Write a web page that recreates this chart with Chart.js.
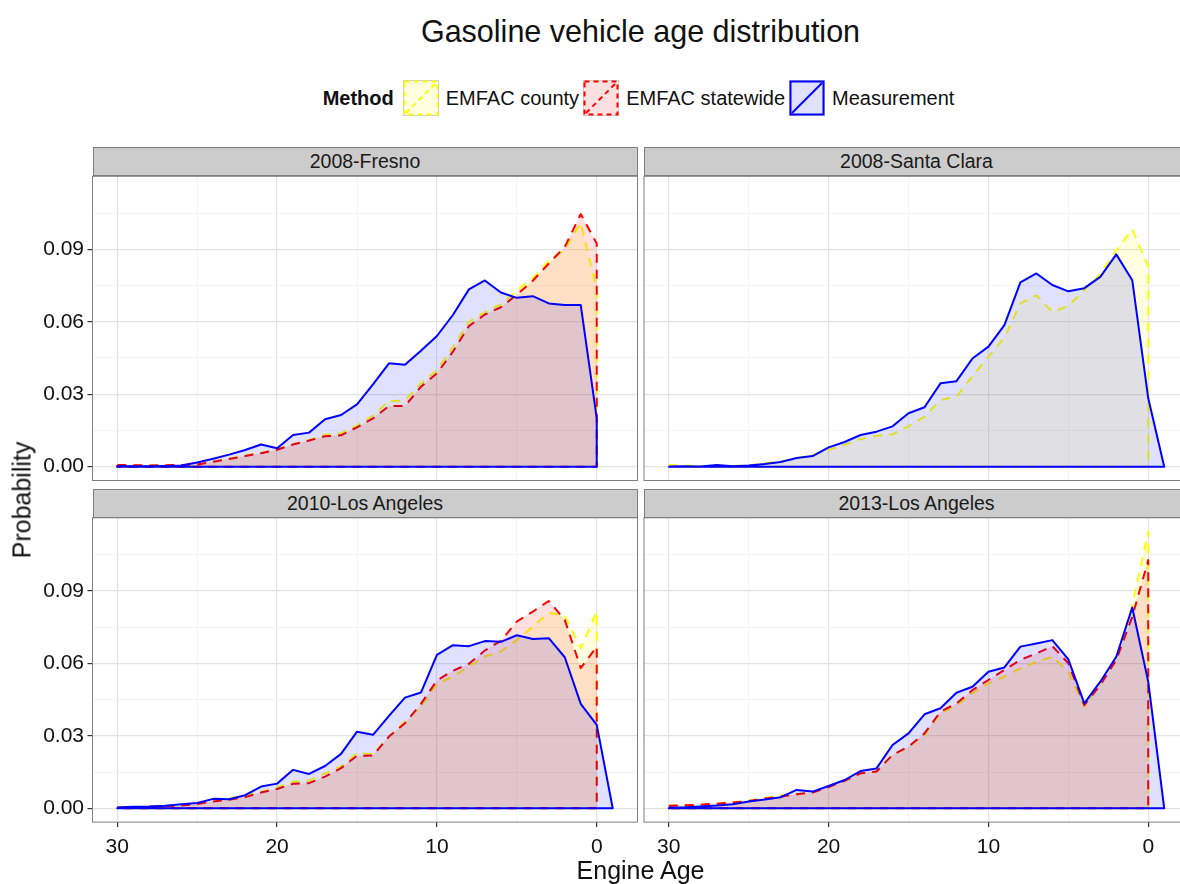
<!DOCTYPE html>
<html lang="en">
<head>
<meta charset="UTF-8">
<title>Gasoline vehicle age distribution</title>
<script src="https://cdn.jsdelivr.net/npm/chart.js"></script>
<style>
    body {
        margin: 0;
        width: 1180px;
        height: 884px;
        overflow: hidden;
        position: relative;
        background: #fff;
        font-family: "Liberation Sans", Arial, sans-serif;
        color: #111;
    }
    canvas { position: absolute; }
    /* the figure is wider than the window; title and legend centre on the whole figure */
    #title {
        position: absolute; left: 0; width: 1281px; top: 14px;
        text-align: center; font-size: 30.5px; white-space: nowrap;
    }
    #legend {
        position: absolute; left: 0; width: 1281px; top: 80px; height: 36px;
        display: flex; justify-content: center; align-items: center; font-size: 20px;
        white-space: nowrap;
    }
    #legend b { margin-right: 9px; }
    #legend svg { margin-right: 7px; }
    #legend span { margin-right: 4px; }
    .strip {
        position: absolute; box-sizing: border-box; width: 545px;
        background: #cccccc; border: 1px solid #7f7f7f;
        display: flex; align-items: center; justify-content: center;
        font-size: 19.5px; color: #1a1a1a;
    }
    .axis-title { position: absolute; font-size: 25px; white-space: nowrap; }
</style>
</head>
<body>

<div id="title">Gasoline vehicle age distribution</div>
<div id="legend"><b>Method</b></div>

<div class="strip" style="left:92.5px; top:147px; height:29.3px">2008-Fresno</div>
<div class="strip" style="left:644px; top:147px; height:29.3px">2008-Santa Clara</div>
<div class="strip" style="left:92.5px; top:489px; height:28.8px">2010-Los Angeles</div>
<div class="strip" style="left:644px; top:489px; height:28.8px">2013-Los Angeles</div>

<canvas id="fresno" width="645" height="316" style="left:0; top:170px"></canvas>
<canvas id="santaClara" width="560" height="316" style="left:640px; top:170px"></canvas>
<canvas id="la2010" width="645" height="373" style="left:0; top:511px"></canvas>
<canvas id="la2013" width="560" height="373" style="left:640px; top:511px"></canvas>

<div class="axis-title" style="left:22px; top:500px; transform: translate(-50%, -50%) rotate(-90deg)">Probability</div>
<div class="axis-title" style="left:640.5px; top:870px; transform: translate(-50%, -50%)">Engine Age</div>

<script>
    // engine age of each value; the last entry (-1) is only used by the measured series
    const ages = [30, 29, 28, 27, 26, 25, 24, 23, 22, 21, 20, 19, 18, 17, 16, 15,
                  14, 13, 12, 11, 10, 9, 8, 7, 6, 5, 4, 3, 2, 1, 0, -1];

    const xMajor = [30, 20, 10, 0];
    const xMinor = [25, 15, 5];
    const yMajor = [0, 0.03, 0.06, 0.09];
    const yMinor = [0.015, 0.045, 0.075, 0.105];

    const methods = ['EMFAC county', 'EMFAC statewide', 'Measurement'];
    const lineColors = ['#ffff00', '#ff0000', '#0000ff'];
    const fillColors = ['rgba(255,255,0,0.12)', 'rgba(255,0,0,0.12)', 'rgba(0,0,255,0.12)'];
    const dashes = [[9, 7], [9, 7], []];

    // 2008 Fresno
    const fresnoCounty = [0.0007, 0.0006, 0.0005, 0.0006, 0.0007, 0.0009, 0.0021, 0.0034, 0.0046, 0.0058,
        0.0072, 0.0094, 0.0111, 0.0132, 0.0138, 0.0170, 0.0212, 0.0272, 0.0274, 0.0345,
        0.0400, 0.0495, 0.0600, 0.0640, 0.0672, 0.0730, 0.0780, 0.0852, 0.0900, 0.1010, 0.0735];
    const fresnoStatewide = [0.0007, 0.0006, 0.0005, 0.0006, 0.0007, 0.0009, 0.0020, 0.0032, 0.0044, 0.0056,
        0.0070, 0.0092, 0.0108, 0.0126, 0.0130, 0.0163, 0.0200, 0.0251, 0.0251, 0.0331,
        0.0386, 0.0476, 0.0582, 0.0630, 0.0660, 0.0712, 0.0770, 0.0841, 0.0910, 0.1046, 0.0924];
    const fresnoMeasured = [0.0003, 0.0002, 0.0002, 0.0003, 0.0005, 0.0017, 0.0033, 0.0050, 0.0069, 0.0092,
        0.0076, 0.0131, 0.0141, 0.0196, 0.0214, 0.0258, 0.0341, 0.0428, 0.0422, 0.0480,
        0.0541, 0.0628, 0.0734, 0.0771, 0.0721, 0.0699, 0.0706, 0.0676, 0.0669, 0.0669, 0.0200];

    // 2008 Santa Clara (no statewide series)
    const santaClaraCounty = [0.0006, 0.0005, 0.0003, 0.0002, 0.0003, 0.0006, 0.0014, 0.0021, 0.0036, 0.0049,
        0.0070, 0.0090, 0.0114, 0.0128, 0.0134, 0.0168, 0.0207, 0.0276, 0.0290, 0.0375,
        0.0455, 0.0535, 0.0676, 0.0710, 0.0641, 0.0665, 0.0731, 0.0797, 0.0897, 0.0982, 0.0830];
    const santaClaraMeasured = [0.0001, 0.0002, 0.0001, 0.0007, 0.0002, 0.0005, 0.0011, 0.0019, 0.0036, 0.0044,
        0.0080, 0.0102, 0.0131, 0.0145, 0.0167, 0.0221, 0.0246, 0.0345, 0.0354, 0.0448,
        0.0497, 0.0586, 0.0763, 0.0800, 0.0752, 0.0726, 0.0739, 0.0786, 0.0879, 0.0772, 0.0283, 0];

    // 2010 Los Angeles
    const la2010County = [0.0004, 0.0005, 0.0007, 0.0009, 0.0013, 0.0020, 0.0030, 0.0041, 0.0053, 0.0069,
        0.0086, 0.0110, 0.0115, 0.0145, 0.0173, 0.0228, 0.0224, 0.0297, 0.0359, 0.0421,
        0.0515, 0.0545, 0.0587, 0.0628, 0.0649, 0.0697, 0.0752, 0.0810, 0.0796, 0.0663, 0.0814];
    const la2010Statewide = [0.0003, 0.0004, 0.0006, 0.0008, 0.0011, 0.0018, 0.0028, 0.0035, 0.0046, 0.0065,
        0.0080, 0.0101, 0.0104, 0.0131, 0.0166, 0.0217, 0.0218, 0.0297, 0.0352, 0.0432,
        0.0529, 0.0569, 0.0598, 0.0653, 0.0693, 0.0773, 0.0814, 0.0858, 0.0780, 0.0580, 0.0669];
    const la2010Measured = [0.0003, 0.0006, 0.0007, 0.0010, 0.0017, 0.0022, 0.0039, 0.0037, 0.0054, 0.0090,
        0.0102, 0.0159, 0.0142, 0.0175, 0.0225, 0.0317, 0.0304, 0.0382, 0.0458, 0.0479,
        0.0635, 0.0675, 0.0671, 0.0692, 0.0689, 0.0716, 0.0701, 0.0704, 0.0625, 0.0432, 0.0345, 0];

    // 2013 Los Angeles
    const la2013County = [0.0010, 0.0012, 0.0015, 0.0019, 0.0025, 0.0031, 0.0042, 0.0054, 0.0057, 0.0066,
        0.0090, 0.0115, 0.0145, 0.0152, 0.0221, 0.0255, 0.0303, 0.0393, 0.0427, 0.0476,
        0.0517, 0.0545, 0.0579, 0.0607, 0.0627, 0.0565, 0.0420, 0.0517, 0.0627, 0.0841, 0.1145];
    const la2013Statewide = [0.0010, 0.0012, 0.0015, 0.0019, 0.0024, 0.0030, 0.0040, 0.0048, 0.0058, 0.0065,
        0.0088, 0.0114, 0.0145, 0.0152, 0.0221, 0.0255, 0.0310, 0.0400, 0.0434, 0.0489,
        0.0531, 0.0572, 0.0614, 0.0641, 0.0671, 0.0600, 0.0427, 0.0510, 0.0614, 0.0793, 0.1027];
    const la2013Measured = [0.0003, 0.0004, 0.0007, 0.0011, 0.0017, 0.0028, 0.0036, 0.0046, 0.0076, 0.0069,
        0.0092, 0.0117, 0.0154, 0.0165, 0.0262, 0.0310, 0.0389, 0.0414, 0.0478, 0.0503,
        0.0565, 0.0583, 0.0669, 0.0682, 0.0696, 0.0616, 0.0434, 0.0524, 0.0627, 0.0831, 0.0524, 0];

    // canvas id, series per method, and how the axes are laid out in that panel
    const panels = [
        { id: 'fresno', series: [fresnoCounty, fresnoStatewide, fresnoMeasured],
          showY: true, showX: false, yWidth: 92.5, xHeight: 0,
          padding: { top: 6.3, right: 7.5, bottom: 5.5, left: 0 } },
        { id: 'santaClara', series: [santaClaraCounty, null, santaClaraMeasured],
          showY: false, showX: false, yWidth: 0, xHeight: 0,
          padding: { top: 6.3, right: 11, bottom: 5.5, left: 4 } },
        { id: 'la2010', series: [la2010County, la2010Statewide, la2010Measured],
          showY: true, showX: true, yWidth: 92.5, xHeight: 40,
          padding: { top: 6.8, right: 7.5, bottom: 21.9, left: 0 } },
        { id: 'la2013', series: [la2013County, la2013Statewide, la2013Measured],
          showY: false, showX: true, yWidth: 0, xHeight: 40,
          padding: { top: 6.8, right: 11, bottom: 21.9, left: 4 } }
    ];

    // shared scale limits with a 5% margin, as in the original facets
    const allValues = panels.flatMap(p => p.series.filter(s => s).flat());
    const yTop = Math.max(...allValues);
    const yMin = -yTop * 0.05, yMax = yTop * 1.05;
    const xPad = (ages[0] - ages[ages.length - 1]) * 0.05;
    const xMin = ages[ages.length - 1] - xPad, xMax = ages[0] + xPad;

    // closed polygon: the curve, down to zero, back along the base
    function outline(values) {
        const pts = values.map((v, i) => ({ x: ages[i], y: v }));
        const first = pts[0], last = pts[pts.length - 1];
        pts.push({ x: last.x, y: 0 }, { x: first.x, y: 0 }, { x: first.x, y: first.y });
        return pts;
    }

    const isMajor = (list, v) => list.some(m => Math.abs(m - v) < 1e-9);

    function gridOptions(major, drawTicks) {
        return {
            color: c => c.tick && isMajor(major, c.tick.value) ? '#e3e3e3' : '#f4f4f4',
            lineWidth: c => c.tick && isMajor(major, c.tick.value) ? 1.2 : 1,
            drawTicks: drawTicks,
            tickLength: 5,
            tickWidth: 1.2,
            tickColor: c => c.tick && isMajor(major, c.tick.value) ? '#333333' : 'rgba(0,0,0,0)'
        };
    }

    function zeroPadding(scale) {
        scale.paddingLeft = scale.paddingRight = scale.paddingTop = scale.paddingBottom = 0;
    }

    const panelBorder = {
        id: 'panelBorder',
        afterDatasetsDraw(chart) {
            const { ctx, chartArea: a } = chart;
            ctx.save();
            ctx.strokeStyle = '#7f7f7f';
            ctx.lineWidth = 1;
            ctx.strokeRect(a.left, a.top, a.width, a.height);
            ctx.restore();
        }
    };

    Chart.defaults.font.family = '"Liberation Sans", Arial, sans-serif';
    Chart.defaults.color = '#111';

    panels.forEach(p => {
        const datasets = [];
        p.series.forEach((values, k) => {
            if (!values) return;
            datasets.push({
                label: methods[k],
                data: outline(values),
                borderColor: lineColors[k],
                backgroundColor: fillColors[k],
                borderWidth: 2,
                borderDash: dashes[k],
                borderJoinStyle: 'round',
                fill: 'shape',
                pointRadius: 0,
                tension: 0,
                order: 2 - k
            });
        });

        new Chart(document.getElementById(p.id), {
            type: 'line',
            data: { datasets: datasets },
            plugins: [panelBorder],
            options: {
                responsive: false,
                animation: false,
                layout: { padding: p.padding },
                plugins: { legend: { display: false }, tooltip: { enabled: false } },
                scales: {
                    x: {
                        type: 'linear',
                        reverse: true,
                        min: xMin,
                        max: xMax,
                        afterBuildTicks: s => { s.ticks = xMajor.concat(xMinor).sort((a, b) => a - b).map(v => ({ value: v })); },
                        afterFit: s => { s.height = p.xHeight; zeroPadding(s); },
                        ticks: {
                            display: p.showX, autoSkip: false, maxRotation: 0, padding: 8,
                            font: { size: 21 },
                            callback: v => isMajor(xMajor, v) ? String(v) : ''
                        },
                        grid: gridOptions(xMajor, p.showX),
                        border: { display: false }
                    },
                    y: {
                        type: 'linear',
                        min: yMin,
                        max: yMax,
                        afterBuildTicks: s => { s.ticks = yMajor.concat(yMinor).sort((a, b) => a - b).map(v => ({ value: v })); },
                        afterFit: s => { s.width = p.yWidth; zeroPadding(s); },
                        ticks: {
                            display: p.showY, autoSkip: false, padding: 3.5,
                            font: { size: 21 },
                            callback: v => isMajor(yMajor, v) ? v.toFixed(2) : ''
                        },
                        grid: gridOptions(yMajor, p.showY),
                        border: { display: false }
                    }
                }
            }
        });
    });

    // legend keys: filled square with the series outline and a diagonal stroke
    const legend = document.getElementById('legend');
    methods.forEach((name, k) => {
        const dash = dashes[k].length ? 'stroke-dasharray="5 4"' : '';
        const key = '<svg width="36" height="36">' +
            '<rect x="0.5" y="0.5" width="35" height="35" fill="#fff" stroke="#cccccc"/>' +
            '<rect x="1.5" y="1.5" width="33" height="33" fill="' + fillColors[k] + '" stroke="' + lineColors[k] + '" stroke-width="2" ' + dash + '/>' +
            '<line x1="3" y1="33" x2="33" y2="3" stroke="' + lineColors[k] + '" stroke-width="2" ' + dash + '/>' +
            '</svg>';
        legend.insertAdjacentHTML('beforeend', key + '<span>' + name + '</span>');
    });
</script>
</body>
</html>
